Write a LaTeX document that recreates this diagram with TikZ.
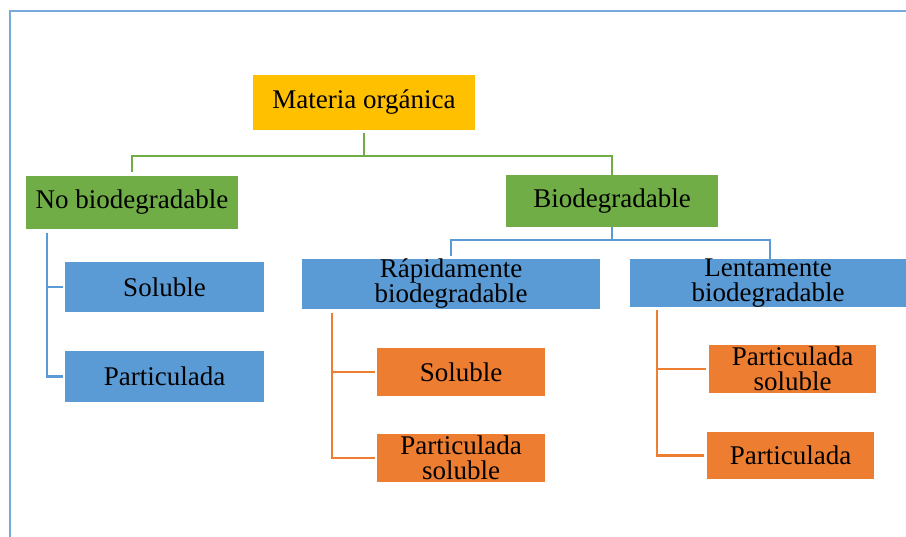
\documentclass[tikz,border=0pt]{standalone}
\usepackage{fontspec}
\setmainfont{Liberation Serif}
\definecolor{cgold}{RGB}{255,192,0}
\definecolor{cgreen}{RGB}{112,173,71}
\definecolor{cblue}{RGB}{91,155,213}
\definecolor{corange}{RGB}{237,125,49}
\definecolor{cframe}{RGB}{120,168,222}
\begin{document}
\begin{tikzpicture}[x=1pt,y=-1pt,
  box/.style={rectangle, inner sep=0pt, align=center, text=black,
    font=\fontsize{27}{25}\selectfont},
  gline/.style={draw=cgreen, line width=2.6pt},
  bline/.style={draw=cblue, line width=2.6pt},
  oline/.style={draw=corange, line width=2.6pt}]
\useasboundingbox (0,0) rectangle (906,537);
\draw[cframe, line width=2pt] (10,537) -- (10,11) -- (906,11);
% nodes
\node[box, fill=cgold, minimum width=222, minimum height=55] (mo) at (364,102.5) {Materia orgánica};
\node[box, fill=cgreen, minimum width=212, minimum height=53] (nb) at (132,202.5) {No biodegradable};
\node[box, fill=cgreen, minimum width=212, minimum height=52] (bio) at (612,201) {Biodegradable};
\node[box, fill=cblue, minimum width=298, minimum height=50] (rap) at (451,284) {Rápidamente\\biodegradable};
\node[box, fill=cblue, minimum width=276, minimum height=48] (len) at (768,283) {Lentamente\\biodegradable};
\node[box, fill=cblue, minimum width=199, minimum height=50] (ns) at (164.5,287) {Soluble};
\node[box, fill=cblue, minimum width=199, minimum height=51] (np) at (164.5,376.5) {Particulada};
\node[box, fill=corange, minimum width=168, minimum height=48] (rs) at (461,372) {Soluble};
\node[box, fill=corange, minimum width=168, minimum height=48] (rp) at (461,458) {Particulada\\soluble};
\node[box, fill=corange, minimum width=167, minimum height=48] (ls) at (792.5,369) {Particulada\\soluble};
\node[box, fill=corange, minimum width=167, minimum height=47] (lp) at (790.5,455.5) {Particulada};
% junctions
\coordinate (gj) at (364,156);
\coordinate (bj) at (612,240);
\coordinate (nt) at (47,233);
\coordinate (rt) at (332,313);
\coordinate (lt) at (657,310);
% connectors
\draw[gline, shorten <=3pt] (mo.south) -- (gj);
\draw[gline, shorten <=4pt] (nb.north) |- (gj) -| ([yshift=-4pt]bio.north);
\draw[bline] (bio.south) -- (bj);
\draw[bline, shorten <=3pt] (rap.north) |- (bj) -| ([xshift=2pt, yshift=-3pt]len.north);
\draw[bline] (nt) |- ([xshift=-2pt]np.west);
\draw[bline] (nt |- ns.west) -- ([xshift=-2pt]ns.west);
\draw[oline] (rt) |- ([xshift=-2pt]rp.west);
\draw[oline] (rt |- rs.west) -- ([xshift=-2pt]rs.west);
\draw[oline] (lt) |- ([xshift=-3pt]lp.west);
\draw[oline] (lt |- ls.west) -- ([xshift=-3pt]ls.west);
\end{tikzpicture}
\end{document}
